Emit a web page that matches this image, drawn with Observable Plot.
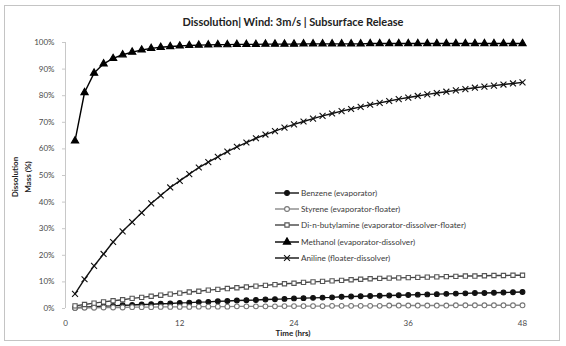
<!DOCTYPE html>
<html><head><meta charset="utf-8">
<script src="https://cdn.jsdelivr.net/npm/d3@7"></script>
<script src="https://cdn.jsdelivr.net/npm/@observablehq/plot@0.6"></script>
<style>
body{margin:0;background:#fff;font-family:Lato,"Liberation Sans",sans-serif;}
#wrap{position:relative;width:566px;height:346px;overflow:hidden;background:#fff}
#frame{position:absolute;left:4px;top:5px;width:556px;height:336px;border:1px solid #c4c4c4;box-sizing:border-box}
#chart{position:absolute;left:0;top:0}
#title{position:absolute;left:0;width:586px;top:15px;text-align:center;font-size:11px;font-weight:bold;color:#222}
#ytitle{position:absolute;left:22px;top:177px;transform:translate(-50%,-50%) rotate(-90deg);font-size:8px;font-weight:bold;color:#222;text-align:center;line-height:13px;white-space:nowrap}
#xtitle{position:absolute;left:293px;top:328px;transform:translateX(-50%);font-size:8px;font-weight:bold;color:#222;white-space:nowrap}
#legend{position:absolute;left:274px;top:185px;font-size:8.2px;color:#3a3a3a}
#legend .row{height:16.2px;display:flex;align-items:center;white-space:nowrap}
#legend svg{margin-right:1px}
</style>
</head><body>
<div id="wrap">
<div id="frame"></div>
<div id="chart"></div>
<div id="title">Dissolution| Wind: 3m/s | Subsurface Release</div>
<div id="ytitle">Dissolution<br>Mass (%)</div>
<div id="xtitle">Time (hrs)</div>
<div id="legend"></div>
</div>
<script>
const hours = [1,2,3,4,5,6,7,8,9,10,11,12,13,14,15,16,17,18,19,20,21,22,23,24,25,26,27,28,29,30,31,32,33,34,35,36,37,38,39,40,41,42,43,44,45,46,47,48];
const benzene = [0.3,0.5,0.7,0.9,1.0,1.2,1.3,1.5,1.6,1.8,1.9,2.1,2.2,2.4,2.5,2.7,2.8,3.0,3.1,3.2,3.4,3.5,3.6,3.8,3.9,4.0,4.1,4.2,4.4,4.5,4.6,4.7,4.8,4.9,5.0,5.1,5.2,5.3,5.4,5.5,5.6,5.7,5.8,5.8,5.9,6.0,6.1,6.2];
const styrene = [0.2,0.3,0.3,0.4,0.4,0.4,0.5,0.5,0.5,0.6,0.6,0.6,0.6,0.7,0.7,0.7,0.7,0.8,0.8,0.8,0.8,0.8,0.9,0.9,0.9,0.9,0.9,1.0,1.0,1.0,1.0,1.0,1.0,1.1,1.1,1.1,1.1,1.1,1.1,1.1,1.2,1.2,1.2,1.2,1.2,1.2,1.2,1.2];
const dibutylamine = [1.0,1.5,2.0,2.5,2.9,3.3,3.8,4.2,4.6,5.0,5.4,5.8,6.2,6.5,6.9,7.2,7.5,7.8,8.1,8.4,8.7,9.0,9.3,9.5,9.8,10.0,10.2,10.4,10.6,10.8,11.0,11.2,11.3,11.4,11.5,11.6,11.7,11.8,11.9,12.0,12.1,12.2,12.2,12.3,12.4,12.4,12.5,12.5];
const methanol = [63.0,81.2,88.5,92.0,94.0,95.4,96.4,97.2,97.8,98.2,98.5,98.7,98.9,99.0,99.1,99.2,99.2,99.3,99.3,99.3,99.4,99.4,99.4,99.4,99.5,99.5,99.5,99.5,99.5,99.5,99.5,99.6,99.6,99.6,99.6,99.6,99.6,99.6,99.6,99.6,99.6,99.6,99.6,99.6,99.6,99.6,99.6,99.6];
const aniline = [5.5,11.0,16.0,20.5,25.0,29.0,32.5,36.0,39.5,42.5,45.5,48.0,50.5,53.0,55.0,57.0,59.0,60.8,62.4,64.0,65.4,66.7,68.0,69.2,70.3,71.4,72.4,73.3,74.2,75.0,75.8,76.6,77.3,78.0,78.7,79.3,79.9,80.5,81.0,81.5,82.0,82.5,83.0,83.4,83.8,84.2,84.6,85.0];
const seriesNames = ["Benzene (evaporator)","Styrene (evaporator-floater)","Di-n-butylamine (evaporator-dissolver-floater)","Methanol (evaporator-dissolver)","Aniline (floater-dissolver)"];
const xTicks = [0,12,24,36,48];
const yTicks = [0,10,20,30,40,50,60,70,80,90,100];

const styles = [
  {values: benzene, symbol:"circle", fill:"#111", stroke:"#111", line:"#111", r:2.4},
  {values: styrene, symbol:"circle", fill:"#fff", stroke:"#777", line:"#888", r:2.4},
  {values: dibutylamine, symbol:"square", fill:"#fff", stroke:"#555", line:"#444", r:2.4},
  {values: methanol, symbol:"triangle", fill:"#000", stroke:"#000", line:"#000", r:2.7},
  {values: aniline, symbol:"times", fill:"none", stroke:"#111", line:"#111", r:2.8}
];

const marks = [
  Plot.axisY({ticks: yTicks, tickFormat: d => d + "%", tickSize: 3, tickPadding: 8, stroke: "#c8c8c8", fill:"#4a4a4a", label: null}),
  Plot.ruleX([0], {y1: 0, y2: 100, stroke: "#c8c8c8"}),
  Plot.axisX({ticks: xTicks, tickSize: 0, tickPadding: 12, fill:"#4a4a4a", label: null})
];
styles.forEach((s, i) => {
  const data = hours.map((h, j) => ({h, v: s.values[j]}));
  marks.push(Plot.line(data, {x: "h", y: "v", stroke: s.line, strokeWidth: 1.4}));
  marks.push(Plot.dot(data, {x: "h", y: "v", symbol: () => s.symbol, r: s.r, fill: s.fill, stroke: s.stroke, strokeWidth: 1.1}));
});

const chart = Plot.plot({
  width: 566, height: 346,
  marginLeft: 65, marginRight: 44, marginTop: 42, marginBottom: 38,
  x: {domain: [0, 48]},
  y: {domain: [0, 100]},
  style: {fontFamily: "Lato, sans-serif", fontSize: "8px", background: "transparent"},
  marks
});
document.getElementById("chart").appendChild(chart);

// legend
const legend = d3.select("#legend");
seriesNames.forEach((name, i) => {
  const s = styles[i];
  const row = legend.append("div").attr("class", "row");
  const svg = row.append("svg").attr("width", 26).attr("height", 10);
  svg.append("line").attr("x1", 1).attr("x2", 25).attr("y1", 5).attr("y2", 5).attr("stroke", s.line).attr("stroke-width", 1.4);
  const sym = {circle: d3.symbolCircle, square: d3.symbolSquare, triangle: d3.symbolTriangle, times: d3.symbolTimes}[s.symbol];
  svg.append("path").attr("transform", "translate(13,5)").attr("d", d3.symbol(sym, Math.PI * s.r * s.r)())
    .attr("fill", s.fill).attr("stroke", s.stroke).attr("stroke-width", 1.1);
  row.append("span").text(name);
});
</script>
</body></html>
